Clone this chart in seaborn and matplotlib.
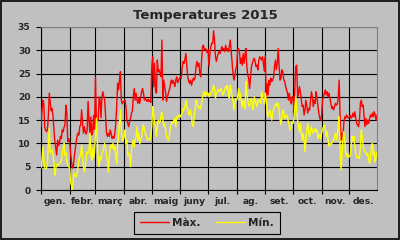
import numpy as np
import pandas as pd
import matplotlib
matplotlib.use("Agg")
import matplotlib.pyplot as plt
from matplotlib.patches import Rectangle
import seaborn as sns

title = "Temperatures 2015"
months = ["gen.", "febr.", "març", "abr.", "maig", "juny", "jul.", "ag.", "set.", "oct.", "nov.", "des."]
month_days = [31, 28, 31, 30, 31, 30, 31, 31, 30, 31, 30, 31]
series_names = ["Màx.", "Mín."]

max_jan = [13.6, 17.0, 19.3, 18.5, 13.5, 12.9, 12.5, 13.0, 16.0, 20.8, 19.0, 17.0, 17.5, 16.0, 13.0, 10.5, 9.0, 7.5, 10.7, 9.5, 10.0, 11.5, 11.0, 12.9, 12.5, 13.5, 14.0, 18.2, 16.5, 10.4, 11.0]
max_feb = [10.5, 8.0, 6.1, 4.7, 5.0, 7.0, 8.6, 10.0, 11.5, 12.2, 11.8, 13.6, 14.0, 17.2, 14.5, 12.2, 13.6, 12.5, 12.0, 12.9, 19.0, 15.0, 12.0, 15.7, 11.8, 12.5, 16.0, 13.0]
max_mar = [24.2, 14.7, 15.0, 15.0, 20.0, 19.3, 15.5, 20.0, 21.1, 20.0, 19.3, 15.7, 12.2, 11.5, 12.2, 11.5, 12.9, 12.2, 11.1, 11.5, 11.1, 12.2, 14.3, 17.9, 22.9, 21.5, 23.6, 25.4, 19.3, 18.5, 19.0]
max_apr = [19.0, 19.3, 17.9, 15.0, 14.3, 13.6, 14.7, 15.4, 16.5, 17.0, 20.0, 21.8, 19.3, 20.8, 19.3, 18.6, 19.7, 18.6, 20.0, 21.1, 21.8, 20.8, 19.3, 19.7, 19.3, 19.0, 19.5, 19.0, 19.3, 18.8]
max_may = [26.5, 28.6, 22.2, 27.2, 21.5, 20.8, 27.9, 25.4, 25.8, 25.0, 24.3, 32.2, 19.3, 23.6, 22.2, 20.8, 19.0, 20.0, 20.8, 21.5, 22.2, 23.6, 22.9, 23.6, 22.9, 22.2, 23.6, 24.3, 23.0, 23.5, 24.0]
max_jun = [24.3, 24.0, 26.5, 27.6, 27.2, 28.3, 29.3, 26.5, 24.3, 23.3, 22.9, 23.6, 22.5, 23.3, 24.0, 23.6, 24.3, 26.5, 27.6, 26.5, 27.2, 25.0, 24.3, 27.9, 30.8, 31.1, 30.1, 30.4, 30.0, 29.5]
max_jul = [30.1, 26.5, 29.3, 30.8, 31.5, 31.5, 34.2, 32.2, 28.6, 27.6, 28.6, 29.3, 29.7, 29.3, 30.1, 30.8, 30.1, 30.4, 29.7, 31.1, 30.1, 30.4, 29.7, 30.8, 32.2, 29.7, 27.2, 25.0, 23.6, 24.5, 26.0]
max_aug = [26.5, 30.1, 30.4, 29.7, 27.2, 28.3, 26.8, 29.3, 27.2, 29.0, 30.4, 26.5, 24.7, 24.0, 21.8, 24.3, 26.5, 27.2, 27.9, 28.3, 27.6, 26.5, 26.8, 25.8, 27.9, 28.6, 28.3, 27.9, 28.6, 27.0, 25.5]
max_sep = [28.6, 19.3, 22.9, 20.4, 23.6, 22.5, 24.0, 23.3, 23.6, 24.3, 26.5, 27.9, 25.8, 27.2, 30.4, 26.5, 23.6, 24.0, 25.8, 25.4, 23.6, 23.3, 22.2, 21.5, 20.8, 19.3, 20.8, 19.3, 18.5, 20.0]
max_oct = [20.0, 17.2, 21.8, 26.5, 26.8, 20.0, 20.8, 22.2, 21.0, 19.5, 17.9, 18.2, 16.1, 17.2, 19.3, 18.0, 16.5, 17.5, 17.2, 19.3, 21.1, 20.0, 17.9, 19.3, 18.6, 21.1, 20.0, 18.0, 16.5, 15.4, 15.0]
max_nov = [16.1, 19.3, 20.0, 20.8, 21.5, 20.4, 21.1, 20.0, 20.8, 19.7, 18.6, 17.5, 17.9, 17.2, 17.9, 18.6, 18.2, 18.5, 19.7, 23.6, 16.0, 10.7, 12.2, 10.7, 14.3, 15.7, 15.4, 16.1, 15.7, 15.5]
max_dec = [15.7, 16.1, 15.4, 15.7, 16.5, 15.7, 16.8, 15.4, 14.3, 14.0, 13.6, 15.0, 18.6, 19.3, 17.9, 18.2, 15.7, 13.6, 15.4, 14.0, 15.0, 14.3, 15.4, 16.1, 15.7, 16.5, 15.7, 16.8, 16.1, 15.0, 16.1]

min_jan = [4.7, 6.5, 9.3, 7.0, 4.7, 4.5, 4.7, 6.0, 10.5, 13.3, 8.0, 8.3, 8.6, 7.5, 6.0, 3.2, 4.5, 5.5, 5.3, 5.5, 5.6, 6.0, 6.2, 7.5, 9.0, 10.0, 7.5, 8.0, 6.0, 5.5, 5.0]
min_feb = [4.7, 1.8, 1.0, 0.0, 2.5, 3.6, 3.0, 2.8, 3.5, 4.7, 6.4, 7.2, 7.5, 9.7, 7.2, 5.0, 3.9, 5.0, 7.2, 8.2, 7.9, 8.2, 12.2, 7.5, 6.4, 9.0, 7.0, 8.0]
min_mar = [11.5, 15.4, 10.7, 6.4, 5.0, 7.2, 6.4, 7.9, 8.2, 9.3, 10.0, 8.6, 7.2, 6.4, 3.9, 7.2, 9.3, 9.7, 9.0, 10.0, 8.6, 9.3, 7.2, 5.7, 10.0, 12.2, 14.3, 17.2, 12.9, 11.0, 10.5]
min_apr = [11.5, 12.9, 10.0, 10.7, 7.5, 7.9, 7.2, 5.0, 8.6, 10.0, 10.7, 9.3, 10.7, 11.5, 13.6, 10.7, 12.2, 10.0, 10.7, 11.5, 12.9, 14.0, 12.9, 12.2, 11.5, 11.1, 10.7, 11.0, 10.8, 11.5]
min_may = [13.6, 17.9, 16.5, 14.3, 13.6, 11.5, 13.6, 15.0, 14.3, 14.7, 15.7, 16.8, 15.0, 13.6, 14.3, 12.9, 11.5, 11.1, 10.7, 11.5, 13.6, 14.0, 14.7, 14.3, 15.0, 15.4, 13.6, 15.7, 15.5, 16.0, 16.2]
min_jun = [15.7, 16.1, 16.5, 17.5, 17.2, 17.9, 19.3, 17.9, 17.2, 16.1, 16.5, 17.2, 15.7, 14.0, 13.6, 16.1, 17.2, 19.3, 19.0, 17.9, 17.5, 17.9, 17.5, 18.6, 20.0, 20.8, 21.1, 20.0, 21.0, 20.5]
min_jul = [20.8, 20.0, 20.4, 20.8, 21.1, 21.5, 22.5, 21.8, 19.7, 20.8, 21.1, 21.5, 21.1, 21.5, 21.8, 21.1, 20.4, 20.8, 21.5, 22.2, 21.8, 22.5, 20.8, 19.7, 22.5, 21.5, 20.0, 19.3, 17.2, 18.5, 19.5]
min_aug = [19.3, 20.0, 21.8, 19.3, 20.8, 19.3, 17.9, 19.3, 18.6, 17.5, 23.3, 20.8, 19.3, 18.2, 17.9, 19.3, 19.7, 17.9, 17.2, 20.0, 19.3, 18.6, 17.9, 19.3, 19.0, 19.3, 18.6, 21.1, 20.0, 19.5, 18.5]
min_sep = [20.8, 19.3, 16.8, 15.7, 16.5, 17.2, 16.1, 15.0, 16.8, 17.2, 17.9, 18.2, 18.6, 17.9, 18.6, 17.2, 15.0, 14.0, 15.7, 17.2, 16.5, 15.4, 15.7, 16.1, 15.7, 14.7, 13.6, 12.9, 13.5, 14.5]
min_oct = [14.3, 15.7, 17.9, 20.0, 17.2, 15.0, 13.6, 12.5, 14.3, 12.2, 10.7, 12.2, 10.7, 8.2, 10.7, 12.9, 14.3, 12.5, 11.5, 12.9, 13.6, 12.5, 12.2, 12.9, 13.2, 12.5, 12.9, 11.1, 11.5, 12.0, 11.0]
min_nov = [12.2, 12.9, 13.6, 14.0, 12.9, 11.5, 12.5, 10.7, 9.3, 10.0, 9.7, 10.0, 10.4, 10.7, 11.5, 12.2, 10.7, 12.0, 13.6, 15.7, 9.3, 4.3, 7.2, 10.7, 12.5, 10.7, 7.9, 7.2, 7.9, 7.0]
min_dec = [7.2, 7.5, 9.3, 11.5, 10.7, 11.5, 9.3, 7.9, 7.2, 6.8, 7.2, 6.8, 9.3, 12.9, 11.5, 9.3, 8.6, 8.2, 7.9, 7.5, 7.9, 6.4, 5.7, 7.2, 9.3, 10.0, 7.5, 8.2, 6.0, 7.0, 8.2]

tmax = (max_jan + max_feb + max_mar + max_apr + max_may + max_jun +
        max_jul + max_aug + max_sep + max_oct + max_nov + max_dec)
tmin = (min_jan + min_feb + min_mar + min_apr + min_may + min_jun +
        min_jul + min_aug + min_sep + min_oct + min_nov + min_dec)

sns.set_style("white")
plt.rcParams["font.family"] = ["DejaVu Sans"]
plt.rcParams["font.weight"] = "bold"

days = np.arange(len(tmax))
df = pd.DataFrame({"day": np.concatenate([days, days]),
                   "temp": tmax + tmin,
                   "serie": [series_names[0]] * len(tmax) + [series_names[1]] * len(tmin)})

bg = "#c0c0c0"
fig = plt.figure(figsize=(4.0, 2.4), dpi=100, facecolor=bg)
ax = fig.add_axes([41 / 400, 1 - 190 / 240, 336 / 400, 163 / 240])
ax.set_facecolor(bg)

sns.lineplot(data=df, x="day", y="temp", hue="serie",
             palette={series_names[0]: "#ff0000", series_names[1]: "#ffff00"},
             linewidth=1.0, ax=ax, legend=True, zorder=3)

starts = np.concatenate([[0], np.cumsum(month_days)])
ax.set_xlim(0, len(tmax) - 1)
ax.set_ylim(0, 35)

ax.set_xticks(starts[:-1])
ax.set_xticklabels([])
mids = (starts[:-1] + np.minimum(starts[1:], len(tmax) - 1)) / 2
ax.set_xticks(mids, minor=True)
ax.set_xticklabels(months, minor=True, fontsize=6.6, fontweight="bold")
ax.tick_params(axis="x", which="major", direction="out", length=3, width=0.8, color="black", bottom=True)
ax.tick_params(axis="x", which="minor", length=0, pad=5)

ax.set_yticks(np.arange(0, 36, 5))
ax.set_yticklabels([str(v) for v in range(0, 36, 5)], fontsize=6.6, fontweight="bold")
ax.tick_params(axis="y", direction="out", length=3.5, width=0.8, color="black", left=True, pad=4)

ax.grid(True, which="major", color="black", linewidth=0.8)
ax.set_axisbelow(True)
ax.set_xlabel("")
ax.set_ylabel("")

for side in ["left", "bottom"]:
    ax.spines[side].set_color("black")
    ax.spines[side].set_linewidth(0.8)
for side in ["top", "right"]:
    ax.spines[side].set_color("#808080")
    ax.spines[side].set_linewidth(0.8)

fig.text(0.513, 1 - 16 / 240, title, ha="center", va="center", fontsize=9.5, fontweight="bold")

leg = ax.legend(loc="center", bbox_to_anchor=(207 / 400, 1 - 223 / 240), bbox_transform=fig.transFigure,
                ncol=2, frameon=True, fancybox=False, facecolor=bg, edgecolor="black", framealpha=1,
                prop={"size": 7.6, "weight": "bold"}, handlelength=2.7, handletextpad=0.3,
                columnspacing=1.5, borderpad=0.55, borderaxespad=0)
leg.get_frame().set_linewidth(0.8)
for line in leg.get_lines():
    line.set_linewidth(1.0)

fig.patches.append(Rectangle((0.002, 0.003), 0.996, 0.994, transform=fig.transFigure,
                             fill=False, edgecolor="black", linewidth=1.2))

fig.savefig("out.png", dpi=100, facecolor=bg)
